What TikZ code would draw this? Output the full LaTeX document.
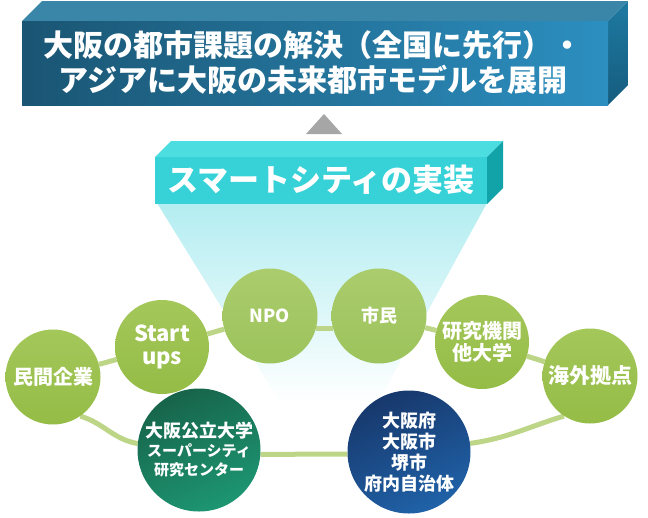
\documentclass[tikz,border=0pt]{standalone}
\usepackage{fontspec}
\newfontfamily\jpfont{Noto Sans CJK JP}
\usetikzlibrary{positioning,backgrounds}
\definecolor{topdark}{HTML}{1A5573}
\definecolor{topmid}{HTML}{1B5C7D}
\definecolor{toplight}{HTML}{2C8FC0}
\definecolor{topface}{HTML}{3A86A8}
\definecolor{topside}{HTML}{1E7AA2}
\definecolor{topsidedark}{HTML}{155C7E}
\definecolor{cyanfront}{HTML}{36D2D8}
\definecolor{cyantop}{HTML}{4CDDE1}
\definecolor{cyanside}{HTML}{12A3A9}
\definecolor{conecol}{HTML}{B3EDF1}
\definecolor{tipgray}{HTML}{A6A6A6}
\definecolor{leaftop}{HTML}{A4C75A}
\definecolor{leafbot}{HTML}{94BC46}
\definecolor{paletop}{HTML}{ABCC6C}
\definecolor{palebot}{HTML}{9CC35C}
\definecolor{ring}{HTML}{BDD587}
\definecolor{unidark}{HTML}{17644A}
\definecolor{unilight}{HTML}{1D9672}
\definecolor{govdark}{HTML}{17386C}
\definecolor{govlight}{HTML}{2062A8}
\begin{document}
\begin{tikzpicture}[x=1pt,y=-1pt,font=\jpfont,line join=round,line cap=round,
  leaf/.style={circle,minimum size=95pt,inner sep=0pt,text=white,align=center,
    top color=leaftop,bottom color=leafbot,font=\jpfont\bfseries\fontsize{20}{22}\selectfont},
  paleleaf/.style={leaf,top color=paletop,bottom color=palebot},
  bigdisc/.style={circle,minimum size=123pt,inner sep=0pt,text=white,align=center,
    font=\jpfont\bfseries\fontsize{18}{21}\selectfont},
  link/.style={draw=ring,line width=5pt},
  boxtext/.style={text=white,align=center,inner sep=0pt}]
\useasboundingbox (0,0) rectangle (648,517);
% light below the box
\begin{scope}[on background layer]
  \shade[top color=conecol,bottom color=white] (157,203) -- (487,203) -- (378,402) -- (280,402) -- cycle;
\end{scope}
% goal box
\fill[topface] (22,21) -- (42,1) -- (628,1) -- (608,21) -- cycle;
\shade[top color=topside,bottom color=topsidedark] (608,21) -- (628,1) -- (628,85) -- (608,105) -- cycle;
\shade[left color=topdark,middle color=topmid,right color=toplight] (22,21) rectangle (608,105);
\node[boxtext,font=\jpfont\bfseries\fontsize{30}{35}\selectfont] (goal) at (313,63)
  {大阪の都市課題の解決（全国に先行）・\\アジアに大阪の未来都市モデルを展開};
\fill[tipgray] (324,114) -- (342,134) -- (306,134) -- cycle;
% smart city box
\fill[cyantop] (155,157) -- (171,141) -- (503,141) -- (487,157) -- cycle;
\fill[cyanside] (487,157) -- (503,141) -- (503,188) -- (487,204) -- cycle;
\fill[cyanfront] (155,157) rectangle (487,204);
\node[boxtext,font=\jpfont\bfseries\fontsize{31}{36}\selectfont] (impl) at (321,180) {スマートシティの実装};
% actors
\node[leaf] (minkan) at (53,377) {民間企業};
\node[leaf,minimum size=94pt,font=\jpfont\bfseries\fontsize{22}{23}\selectfont] (startup) at (162,347) {Start\\ups};
\node[paleleaf,font=\jpfont\bfseries\fontsize{18}{20}\selectfont] (npo) at (270,316) {NPO};
\node[paleleaf,font=\jpfont\bfseries\fontsize{18}{20}\selectfont] (shimin) at (379,316) {市民};
\node[leaf,minimum size=94pt] (kenkyu) at (482,342) {研究機関\\他大学};
\node[leaf,font=\jpfont\bfseries\fontsize{21}{22}\selectfont] (kaigai) at (590,376) {海外拠点};
\node[bigdisc,top color=unidark,bottom color=unilight,shading angle=25] (daigaku) at (199,450)
  {大阪公立大学\\[-2pt]{\fontsize{15}{18}\selectfont スーパーシティ}\\[-2pt]{\fontsize{15}{18}\selectfont 研究センター}};
\node[bigdisc,top color=govdark,bottom color=govlight,shading angle=25] (fu) at (409,452)
  {大阪府\\大阪市\\堺市\\府内自治体};
% ring
\begin{scope}[on background layer]
  \draw[link] (minkan) -- (startup);
  \draw[link] (startup) -- (npo);
  \draw[link] (npo.-15) -- (shimin.195);
  \draw[link] (shimin) -- (kenkyu);
  \draw[link] (kenkyu) -- (kaigai);
  \draw[link] (minkan.-55) to[out=-17,in=170] (daigaku.174);
  \draw[link] (daigaku.-4) -- (fu.182);
  \draw[link] (fu.8) to[out=8,in=197] (kaigai.-123);
\end{scope}
\end{tikzpicture}
\end{document}
